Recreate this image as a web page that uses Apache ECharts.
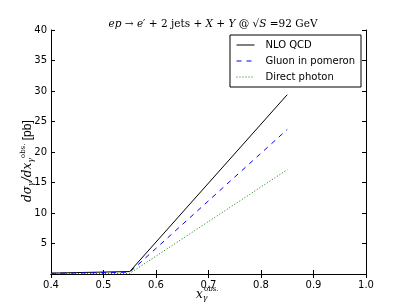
<!DOCTYPE html>
<html><head><meta charset="utf-8">
<script src="https://cdn.jsdelivr.net/npm/echarts@6/dist/echarts.min.js"></script>
<style>html,body{margin:0;padding:0;background:#fff}#c{width:407px;height:305px}</style>
</head><body><div id="c"></div>
<script>
const xValues = [0.4, 0.55, 0.85];
const nloQCD = [0.15, 0.4, 29.4];
const gluonPomeron = [0.1, 0.3, 23.7];
const directPhoton = [0.05, 0.1, 17.1];
const seriesNames = ['NLO QCD', 'Gluon in pomeron', 'Direct photon'];
const xTicks = [0.4, 0.5, 0.6, 0.7, 0.8, 0.9, 1.0];
const yTicks = [5, 10, 15, 20, 25, 30, 35, 40];

const L = 51, R = 41, T = 30, B = 31;
const chart = echarts.init(document.getElementById('c'), null, {renderer: 'canvas'});
const sans = 'DejaVu Sans';
const serif = 'DejaVu Serif';
const pair = (xs, ys) => xs.map((x, i) => [x, ys[i]]);
const axCommon = {
  axisLine: {show: true, lineStyle: {color: '#000', width: 1}},
  axisTick: {show: true, inside: true, length: 4, lineStyle: {color: '#000'}},
  splitLine: {show: false}
};
chart.setOption({
  animation: false,
  grid: {left: L, right: R, top: T, bottom: B, containLabel: false},
  title: {
    text: '{i|ep} → {i|e}′ + 2 jets + {i|X} + {i|Y} @ √{o|S} =92 GeV',
    left: 208, top: 14, textAlign: 'center',
    textStyle: {fontFamily: serif, fontSize: 10.5, fontWeight: 'normal', color: '#000',
      rich: {i: {fontFamily: serif, fontStyle: 'italic', fontSize: 10.5}, o: {fontFamily: serif, fontStyle: 'italic', fontSize: 10.5}}}
  },
  legend: {
    data: seriesNames, orient: 'vertical', right: 46, top: 35,
    backgroundColor: '#fff', borderColor: '#000', borderWidth: 1, borderRadius: 0,
    padding: [5, 6, 5, 6], itemGap: 6, itemWidth: 18, itemHeight: 10,
    itemStyle: {color: 'rgba(0,0,0,0)', borderWidth: 0},
    lineStyle: {width: 1},
    textStyle: {fontFamily: sans, fontSize: 10, color: '#000', padding: [0, 0, 0, 6]}
  },
  xAxis: [
    Object.assign({type: 'value', min: 0.4, max: 1.0, interval: 0.1, position: 'bottom',
      axisLabel: {fontFamily: sans, fontSize: 10, color: '#000', margin: 6,
        formatter: v => xTicks.some(t => Math.abs(t - v) < 1e-9) ? v.toFixed(1) : ''}}, axCommon),
    Object.assign({type: 'value', min: 0.4, max: 1.0, interval: 0.1, position: 'top',
      axisLabel: {show: false}}, axCommon)
  ],
  yAxis: [
    Object.assign({type: 'value', min: 0, max: 40, interval: 5, position: 'left',
      axisLabel: {fontFamily: sans, fontSize: 10, color: '#000', margin: 4,
        formatter: v => yTicks.includes(v) ? String(v) : ''}}, axCommon),
    Object.assign({type: 'value', min: 0, max: 40, interval: 5, position: 'right',
      axisLabel: {show: false}}, axCommon)
  ],
  graphic: [
    {type: 'text', left: 196, top: 289, style: {
      text: '{i|x}{s|γ}', rich: {i: {fontFamily: serif, fontStyle: 'italic', fontSize: 12}, s: {fontFamily: serif, fontStyle: 'italic', fontSize: 8, padding: [6, 0, 0, 0]}}}},
    {type: 'text', left: 204, top: 286, style: {text: 'obs.', font: '7px "DejaVu Serif"', fill: '#000'}},
    {type: 'text', x: 20, y: 202, rotation: Math.PI / 2, style: {
      text: '{i|dσ}{s|γ}{i|/dx}{s|γ}{u|obs.} [pb]',
      fill: '#000',
      rich: {
        i: {fontFamily: serif, fontStyle: 'italic', fontSize: 12},
        s: {fontFamily: serif, fontStyle: 'italic', fontSize: 8, padding: [6, 0, 0, 0]},
        u: {fontFamily: serif, fontSize: 7, padding: [0, 0, 8, 0]}
      }}}
  ],
  series: [
    {name: seriesNames[0], type: 'line', data: pair(xValues, nloQCD), showSymbol: false, symbol: 'none',
      lineStyle: {color: '#000', width: 1}, itemStyle: {color: '#000'}},
    {name: seriesNames[1], type: 'line', data: pair(xValues, gluonPomeron), showSymbol: false, symbol: 'none',
      lineStyle: {color: '#0000ff', width: 1, type: [5, 5]}, itemStyle: {color: '#0000ff'}},
    {name: seriesNames[2], type: 'line', data: pair(xValues, directPhoton), showSymbol: false, symbol: 'none',
      lineStyle: {color: '#008000', width: 1, type: [1, 2]}, itemStyle: {color: '#008000'}}
  ]
});
</script></body></html>
